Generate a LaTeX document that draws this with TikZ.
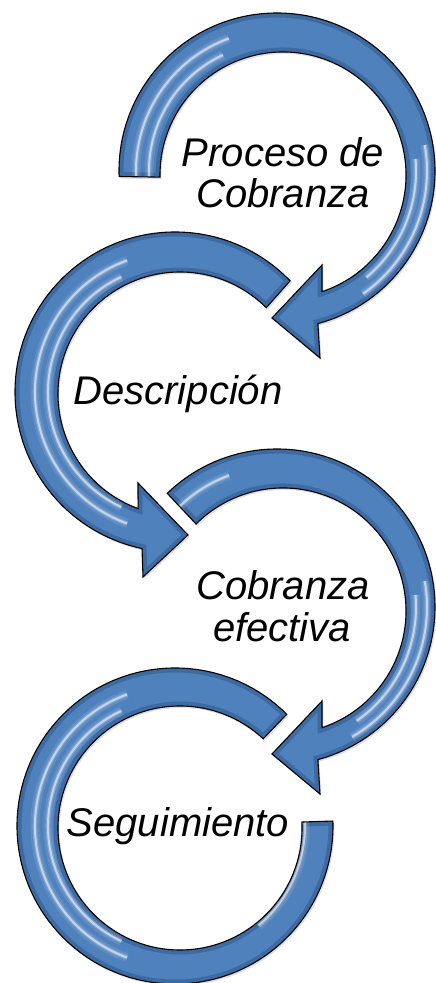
\documentclass[tikz,border=0pt]{standalone}
\usepackage{fontspec}
\setmainfont{Liberation Sans}
\usetikzlibrary{shadows}
\definecolor{arrowblue}{RGB}{79,129,189}
\definecolor{arrowdark}{RGB}{38,72,122}
\newcommand\streak[3]{%
  \draw[white,opacity=0.10,line width=9pt] (#1:#3) arc[start angle=#1,end angle=#2,radius=#3];
  \draw[white,opacity=0.20,line width=4.5pt] (#1:#3) arc[start angle=#1,end angle=#2,radius=#3];
  \draw[white,opacity=0.55,line width=2pt] (#1:#3) arc[start angle=#1,end angle=#2,radius=#3];}
\newcommand\drawband[2]{%
  \fill[arrowblue,drop shadow={shadow xshift=1.5pt,shadow yshift=-2pt,opacity=0.25}] #1;
  \begin{scope}
    \clip #1;
    \draw[arrowdark,opacity=0.4,line width=9pt] #1;
    #2
  \end{scope}
  \draw[black,line width=1.1pt,line join=miter] #1;}
\begin{document}
\begin{tikzpicture}[x=1pt,y=1pt,
  txt/.style={font=\fontsize{40}{41}\selectfont\itshape,inner sep=0pt,anchor=base}]
\useasboundingbox (0,0) rectangle (436,983);
% circle 4 : Seguimiento
\begin{scope}[shift={(175,157)}]
\drawband{(45:158) arc[start angle=45,end angle=361.8,radius=158]
  -- ([shift={(5,-2)}]362.8:122) arc[start angle=362.8,end angle=47,radius=122] -- cycle}
 {\streak{110}{250}{140}\streak{115}{245}{127}\streak{-50}{5}{130}}
\end{scope}
% circle 3 : Cobranza efectiva
\begin{scope}[shift={(277,376)}]
\drawband{(134:158) arc[start angle=134,end angle=-75,radius=158]
  -- (43,-187) -- (-5,-147) -- (45,-94)
  -- ([shift={(6,-4)}]-71.5:123) arc[start angle=-71.5,end angle=135,radius=123] -- cycle}
 {\streak{10}{-60}{150}\streak{5}{-55}{139}\streak{140}{110}{140}}
\end{scope}
% circle 2 : Descripcion
\begin{scope}[shift={(175,591)}]
\drawband{(44:160) arc[start angle=44,end angle=258.1,radius=160]
  -- (-32,-185) -- (13,-143) -- (-37,-91)
  -- ([shift={(5,-2)}]249.9:122) arc[start angle=249.9,end angle=45,radius=122] -- cycle}
 {\streak{110}{250}{140}\streak{115}{245}{127}}
\end{scope}
% circle 1 : Proceso de Cobranza
\begin{scope}[shift={(277,812)}]
\drawband{(182:158) arc[start angle=182,end angle=-75,radius=158]
  -- (43,-187) -- (-5,-147) -- (45,-94)
  -- ([shift={(6,-4)}]-71.5:123) arc[start angle=-71.5,end angle=181,radius=123] -- cycle}
 {\streak{190}{110}{141}\streak{190}{115}{128}\streak{10}{-55}{150}\streak{5}{-50}{139}}
\end{scope}
% labels
\node[txt] (t1a) at (283,816) {Proceso de};
\node[txt] (t1b) at (283,775) {Cobranza};
\node[txt] (t2) at (178,578) {Descripción};
\node[txt] (t3a) at (283,383) {Cobranza};
\node[txt] (t3b) at (282,341) {efectiva};
\node[txt] (t4) at (178,146) {Seguimiento};
\end{tikzpicture}
\end{document}
